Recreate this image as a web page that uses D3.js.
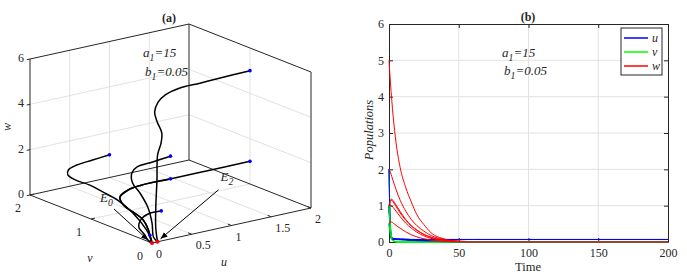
<!DOCTYPE html>
<html>
<head>
<meta charset="utf-8">
<script src="https://cdn.jsdelivr.net/npm/d3@7"></script>
<style>
body { margin: 0; background: #fff; }
svg, text { font-family: "Liberation Serif", "Times New Roman", serif; }
text { fill: #262626; }
</style>
</head>
<body>
<script>
// ---- panel (a): trajectories as (u, v, w) ----
var traj1 = [[2,1,5],[1.61,0.98,5],[1.34,0.96,5],[1.08,0.95,5],[0.82,0.85,5],[0.66,0.76,4.9],[0.57,0.70,4.6],
             [0.48,0.54,4.4],[0.43,0.40,4.1],[0.36,0.32,3.8],[0.27,0.26,3.4],[0.17,0.14,2.5],[0.11,0.08,1.5],[0.07,0.03,0.6],[0.07,0,0]];
var traj2 = [[1,2,1],[0.78,1.99,0.95],[0.55,1.95,0.95],[0.39,1.88,0.93],[0.30,1.77,0.9],[0.27,1.61,0.87],[0.30,1.41,0.83],
             [0.30,1.20,0.75],[0.30,0.96,0.65],[0.25,0.64,0.45],[0.13,0.26,0.2],[0.05,0.08,0.05],[0,0,0]];
var traj3 = [[1,1,2],[0.76,0.98,1.95],[0.58,1,1.85],[0.46,0.93,1.75],[0.40,0.84,1.45],[0.37,0.68,1.2],[0.33,0.50,0.8],
             [0.20,0.26,0.45],[0.08,0.08,0.12],[0.07,0,0]];
var traj4 = [[2,1,1],[1.48,1,1],[0.98,1,1],[0.62,1,1],[0.45,0.98,0.95],[0.31,0.93,0.8],[0.27,0.82,0.6],[0.25,0.64,0.5],
             [0.24,0.46,0.35],[0.17,0.28,0.15],[0.04,0.07,0.03],[0,0,0]];
var traj5 = [[1,1,1],[0.62,1,1],[0.45,0.98,0.95],[0.31,0.93,0.8],[0.27,0.82,0.6],[0.25,0.64,0.5],
             [0.24,0.46,0.35],[0.17,0.28,0.15],[0.04,0.07,0.03],[0,0,0]];
var traj6 = [[0.5,0.5,0.5],[0.38,0.52,0.48],[0.22,0.45,0.45],[0.08,0.32,0.3],[0.05,0.21,0.18],[0.01,0.08,0.04],[0,0,0]];
var traj7 = [[0.05,0.1,0.2],[0.02,0.04,0.08],[0,0,0]];
var trajectories = [traj1, traj2, traj3, traj4, traj5, traj6, traj7];
var equilibria = [[0,0,0],[0.07,0,0]];

var uTicks = [0, 0.5, 1, 1.5, 2];
var vTicks = [0, 1, 2];
var wTicks = [0, 2, 4, 6];

// ---- panel (b): time series ----
var T = [0, 1, 2, 3, 5, 8, 12, 16, 20, 25, 30, 40, 50, 60, 200];
var uA = [2, 0.35, 0.12, 0.09, 0.075, 0.07, 0.07, 0.07, 0.07, 0.07, 0.07, 0.07, 0.07, 0.07, 0.07];
var vA = [1, 0.3, 0.08, 0.03, 0.01, 0, 0, 0, 0, 0, 0, 0, 0, 0, 0];
var wA = [5, 4.4, 3.9, 3.45, 2.75, 2.05, 1.5, 1.1, 0.75, 0.48, 0.26, 0.08, 0.02, 0.01, 0];
var uB = [1, 0.3, 0.12, 0.1, 0.09, 0.085, 0.08, 0.07, 0.06, 0.05, 0.04, 0.02, 0.005, 0, 0];
var vB = [2, 0.6, 0.15, 0.05, 0.01, 0, 0, 0, 0, 0, 0, 0, 0, 0, 0];
var wB = [1, 1.15, 1.18, 1.14, 1.02, 0.84, 0.62, 0.45, 0.33, 0.21, 0.13, 0.05, 0.02, 0, 0];
var uC = [1, 0.25, 0.1, 0.08, 0.072, 0.07, 0.07, 0.07, 0.07, 0.07, 0.07, 0.07, 0.07, 0.07, 0.07];
var vC = [1, 0.35, 0.1, 0.04, 0.01, 0, 0, 0, 0, 0, 0, 0, 0, 0, 0];
var wC = [2, 1.92, 1.8, 1.68, 1.45, 1.15, 0.85, 0.62, 0.45, 0.3, 0.18, 0.07, 0.02, 0.01, 0];
var uD = [2, 0.4, 0.12, 0.09, 0.08, 0.075, 0.07, 0.06, 0.05, 0.04, 0.03, 0.015, 0.005, 0, 0];
var vD = [1, 0.4, 0.12, 0.04, 0.01, 0, 0, 0, 0, 0, 0, 0, 0, 0, 0];
var wD = [1, 1.12, 1.15, 1.1, 0.98, 0.8, 0.6, 0.44, 0.32, 0.21, 0.13, 0.05, 0.02, 0, 0];
var uE = [1, 0.25, 0.1, 0.08, 0.075, 0.07, 0.065, 0.055, 0.045, 0.035, 0.025, 0.01, 0, 0, 0];
var vE = [1, 0.35, 0.1, 0.03, 0.01, 0, 0, 0, 0, 0, 0, 0, 0, 0, 0];
var wE = [1, 1.02, 1.0, 0.95, 0.85, 0.7, 0.52, 0.38, 0.27, 0.17, 0.1, 0.04, 0.01, 0, 0];
var uF = [0.5, 0.15, 0.08, 0.07, 0.065, 0.06, 0.05, 0.04, 0.03, 0.02, 0.015, 0.005, 0, 0, 0];
var vF = [0.5, 0.2, 0.06, 0.02, 0, 0, 0, 0, 0, 0, 0, 0, 0, 0, 0];
var wF = [0.5, 0.55, 0.55, 0.52, 0.46, 0.38, 0.28, 0.2, 0.14, 0.09, 0.05, 0.02, 0.005, 0, 0];
var runs = [[uA, vA, wA], [uB, vB, wB], [uC, vC, wC], [uD, vD, wD], [uE, vE, wE], [uF, vF, wF]];
var seriesNames = ["u", "v", "w"];
var seriesColors = ["#0000ff", "#00ff00", "#ff0000"];
var timeTicks = [0, 50, 100, 150, 200];
var popTicks = [0, 1, 2, 3, 4, 5, 6];

var ink = "#262626";
var gridCol = "#e2e2e2";
var serif = "Liberation Serif, Times New Roman, serif";

var svg = d3.select("body").append("svg")
	.attr("width", 687)
	.attr("height", 277)
	.attr("font-family", serif);

function subLabel(g, x, y, base, sub, rest, size, italic) {
	var t = g.append("text")
		.attr("x", x).attr("y", y)
		.attr("font-size", size)
		.attr("font-style", italic ? "italic" : "normal");
	t.append("tspan").text(base);
	t.append("tspan").attr("dy", 4).attr("font-size", size * 0.75).text(sub);
	if (rest) t.append("tspan").attr("dy", -4).text(rest);
	return t;
}

// ================= panel (a) =================
var origin = [152, 243];
var uToX = d3.scaleLinear().domain([0, 2]).range([0, 159]);
var uToY = d3.scaleLinear().domain([0, 2]).range([0, -35]);
var vToX = d3.scaleLinear().domain([0, 2]).range([0, -122]);
var vToY = d3.scaleLinear().domain([0, 2]).range([0, -48]);
var wToY = d3.scaleLinear().domain([0, 6]).range([0, -136]);

function proj(p) {
	return [origin[0] + uToX(p[0]) + vToX(p[1]),
	        origin[1] + uToY(p[0]) + vToY(p[1]) + wToY(p[2])];
}

var ga = svg.append("g");

function seg(g, p, q, col, w) {
	var a = proj(p), b = proj(q);
	g.append("line")
		.attr("x1", a[0]).attr("y1", a[1])
		.attr("x2", b[0]).attr("y2", b[1])
		.attr("stroke", col)
		.attr("stroke-width", w);
}

// grid on the back walls and floor
[0.5, 1, 1.5].forEach(u => { seg(ga, [u,0,0], [u,2,0], gridCol, 1); seg(ga, [u,2,0], [u,2,6], gridCol, 1); });
seg(ga, [0,1,0], [2,1,0], gridCol, 1);
seg(ga, [2,1,0], [2,1,6], gridCol, 1);
[2, 4].forEach(w => { seg(ga, [0,2,w], [2,2,w], gridCol, 1); seg(ga, [2,2,w], [2,0,w], gridCol, 1); });

// box
var boxEdges = [
	[[0,2,0],[0,2,6]], [[0,2,6],[2,2,6]], [[2,2,6],[2,0,6]], [[2,2,0],[2,2,6]],
	[[2,0,0],[2,0,6]], [[0,2,0],[2,2,0]], [[2,2,0],[2,0,0]], [[0,2,0],[0,0,0]], [[0,0,0],[2,0,0]]
];
boxEdges.forEach(e => seg(ga, e[0], e[1], ink, 1));

// ticks and tick labels
uTicks.forEach(t => {
	seg(ga, [t,0,0], [t,0.06,0], ink, 1);
	var p = proj([t,0,0]);
	ga.append("text").attr("x", p[0] + 4).attr("y", p[1] + 15)
		.attr("font-size", 12).text(t);
});
vTicks.forEach(t => {
	seg(ga, [0,t,0], [0.05,t,0], ink, 1);
	var p = proj([0,t,0]);
	ga.append("text").attr("x", p[0] - 9).attr("y", p[1] + 17)
		.attr("text-anchor", "end").attr("font-size", 12).text(t);
});
wTicks.forEach(t => {
	seg(ga, [0,2,t], [-0.04,2,t], ink, 1);
	var p = proj([0,2,t]);
	ga.append("text").attr("x", p[0] - 6).attr("y", p[1] + 3)
		.attr("text-anchor", "end").attr("font-size", 12).text(t);
});

ga.append("text").attr("x", 224).attr("y", 266).attr("text-anchor", "middle")
	.attr("font-size", 12).attr("font-style", "italic").text("u");
ga.append("text").attr("x", 90).attr("y", 262).attr("text-anchor", "middle")
	.attr("font-size", 12).attr("font-style", "italic").text("v");
ga.append("text").attr("transform", "translate(11,127) rotate(-90)").attr("text-anchor", "middle")
	.attr("font-size", 12).attr("font-style", "italic").text("w");

// trajectories
var line3 = d3.line()
	.x(p => proj(p)[0])
	.y(p => proj(p)[1])
	.curve(d3.curveCatmullRom.alpha(0.5));

ga.selectAll("path.traj")
	.data(trajectories)
	.enter()
	.append("path")
	.attr("class", "traj")
	.attr("d", line3)
	.attr("fill", "none")
	.attr("stroke", "#000")
	.attr("stroke-width", 1.5);

ga.selectAll("circle.start")
	.data(trajectories)
	.enter()
	.append("circle")
	.attr("cx", d => proj(d[0])[0])
	.attr("cy", d => proj(d[0])[1])
	.attr("r", 1.8)
	.attr("fill", "#0000ff");

ga.selectAll("circle.eq")
	.data(equilibria)
	.enter()
	.append("circle")
	.attr("cx", d => proj(d)[0])
	.attr("cy", d => proj(d)[1])
	.attr("r", 2)
	.attr("fill", "#ff0000");

// arrows to the equilibria
svg.append("defs").append("marker")
	.attr("id", "head")
	.attr("viewBox", "0 0 10 10")
	.attr("refX", 10).attr("refY", 5)
	.attr("markerWidth", 7).attr("markerHeight", 7)
	.attr("orient", "auto")
	.append("path")
	.attr("d", "M0,1 L10,5 L0,9 Z")
	.attr("fill", "#000");

var e0 = proj(equilibria[0]), e2 = proj(equilibria[1]);
ga.append("line")
	.attr("x1", e0[0] - 38).attr("y1", e0[1] - 34)
	.attr("x2", e0[0] - 4).attr("y2", e0[1] - 3)
	.attr("stroke", "#000").attr("stroke-width", 1)
	.attr("marker-end", "url(#head)");
ga.append("line")
	.attr("x1", e2[0] + 61).attr("y1", e2[1] - 52)
	.attr("x2", e2[0] + 3).attr("y2", e2[1] - 3)
	.attr("stroke", "#000").attr("stroke-width", 1)
	.attr("marker-end", "url(#head)");
subLabel(ga, e0[0] - 52, e0[1] - 41, "E", "0", null, 13, true);
subLabel(ga, e2[0] + 63, e2[1] - 61, "E", "2", null, 13, true);

subLabel(ga, 143, 57, "a", "1", "=15", 13, true);
subLabel(ga, 145, 76, "b", "1", "=0.05", 13, true);
ga.append("text").attr("x", 169).attr("y", 22).attr("text-anchor", "middle")
	.attr("font-size", 12).attr("font-weight", "bold").text("(a)");

// ================= panel (b) =================
var x = d3.scaleLinear().domain([0, 200]).range([389, 668]);
var y = d3.scaleLinear().domain([0, 6]).range([242, 24]);
var gb = svg.append("g");

gb.selectAll("line.gx").data(timeTicks.slice(1, -1)).enter().append("line")
	.attr("x1", d => x(d)).attr("x2", d => x(d))
	.attr("y1", y(0)).attr("y2", y(6))
	.attr("stroke", gridCol);
gb.selectAll("line.gy").data(popTicks.slice(1, -1)).enter().append("line")
	.attr("x1", x(0)).attr("x2", x(200))
	.attr("y1", d => y(d)).attr("y2", d => y(d))
	.attr("stroke", gridCol);

var fmt = d3.format("~g");
var xAxis = d3.axisBottom(x).tickValues(timeTicks).tickFormat(fmt).tickSizeInner(-4).tickSizeOuter(0).tickPadding(6);
var yAxis = d3.axisLeft(y).tickValues(popTicks).tickFormat(fmt).tickSizeInner(-4).tickSizeOuter(0).tickPadding(5);
var xTop = d3.axisTop(x).tickValues(timeTicks).tickSizeInner(-4).tickSizeOuter(0).tickFormat("");
var yRight = d3.axisRight(y).tickValues(popTicks).tickSizeInner(-4).tickSizeOuter(0).tickFormat("");

function styleAxis(g) {
	g.attr("font-family", serif).attr("font-size", 12);
	g.selectAll("path,line").attr("stroke", ink);
	g.selectAll("text").attr("fill", ink);
}
gb.append("g").attr("transform", "translate(0," + y(0) + ")").call(xAxis).call(styleAxis);
gb.append("g").attr("transform", "translate(" + x(0) + ",0)").call(yAxis).call(styleAxis);
gb.append("g").attr("transform", "translate(0," + y(6) + ")").call(xTop).call(styleAxis);
gb.append("g").attr("transform", "translate(" + x(200) + ",0)").call(yRight).call(styleAxis);

var line2 = d3.line()
	.x((d, i) => x(T[i]))
	.y(d => y(d))
	.curve(d3.curveMonotoneX);

runs.forEach(run => {
	run.forEach((vals, k) => {
		gb.append("path")
			.attr("d", line2(vals))
			.attr("fill", "none")
			.attr("stroke", seriesColors[k])
			.attr("stroke-width", 1);
	});
});

// legend
var lg = gb.append("g").attr("transform", "translate(621,28)");
lg.append("rect").attr("width", 41).attr("height", 47)
	.attr("fill", "#fff").attr("stroke", ink);
seriesNames.forEach((n, i) => {
	lg.append("line").attr("x1", 3).attr("x2", 27)
		.attr("y1", 10 + i * 14).attr("y2", 10 + i * 14)
		.attr("stroke", seriesColors[i]).attr("stroke-width", 1.5);
	lg.append("text").attr("x", 31).attr("y", 14 + i * 14)
		.attr("font-size", 12).attr("font-style", "italic").text(n);
});

subLabel(gb, 502, 57, "a", "1", "=15", 13, true);
subLabel(gb, 504, 75, "b", "1", "=0.05", 13, true);
gb.append("text").attr("x", 528).attr("y", 21).attr("text-anchor", "middle")
	.attr("font-size", 12).attr("font-weight", "bold").text("(b)");
gb.append("text").attr("x", 528).attr("y", 271).attr("text-anchor", "middle")
	.attr("font-size", 12.5).text("Time");
gb.append("text").attr("transform", "translate(373,130) rotate(-90)").attr("text-anchor", "middle")
	.attr("font-size", 12.5).attr("font-style", "italic").text("Populations");
</script>
</body>
</html>
